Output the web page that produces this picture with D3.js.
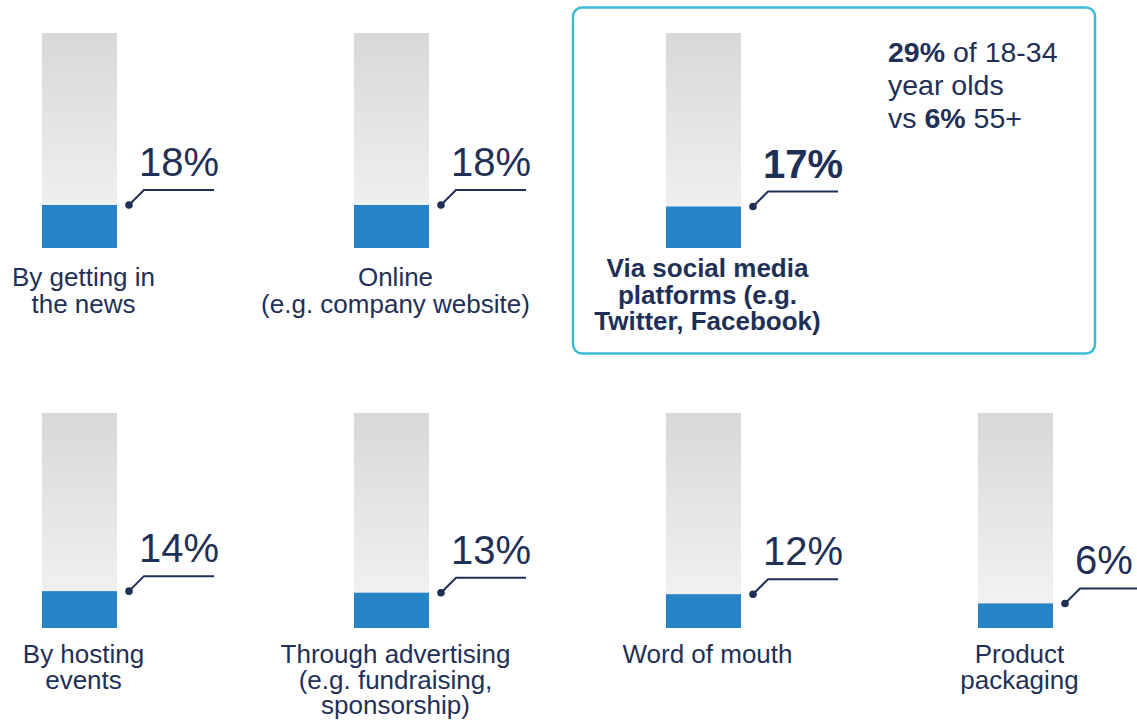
<!DOCTYPE html>
<html>
<head>
<meta charset="utf-8">
<script src="https://cdn.jsdelivr.net/npm/d3@7"></script>
<style>
  html, body { margin: 0; padding: 0; background: #ffffff; }
  svg { display: block; }
  text { font-family: "Liberation Sans", Arial, sans-serif; fill: #1f3057; }
</style>
</head>
<body>
<svg id="chart" width="1137" height="721"></svg>
<script>
// ---- Data ----
const categories = [
  ["By getting in", "the news"],
  ["Online", "(e.g. company website)"],
  ["Via social media", "platforms (e.g.", "Twitter, Facebook)"],
  ["By hosting", "events"],
  ["Through advertising", "(e.g. fundraising,", "sponsorship)"],
  ["Word of mouth"],
  ["Product", "packaging"]
];
const values = [18, 18, 17, 14, 13, 12, 6];
const rowIndex = [0, 0, 0, 1, 1, 1, 1];
const colIndex = [0, 1, 2, 0, 1, 2, 3];
const highlighted = [false, false, true, false, false, false, false];
const noteLines = [
  [{t: "29%", b: true}, {t: " of 18-34", b: false}],
  [{t: "year olds", b: false}],
  [{t: "vs ", b: false}, {t: "6%", b: true}, {t: " 55+", b: false}]
];

// ---- Layout ----
const svg = d3.select("#chart");
const barW = 75;
const barH = 215;
const x = d3.scaleLinear().domain([0, 1]).range([42, 354]);   // column -> left edge
const rowTop = d3.scaleLinear().domain([0, 1]).range([33, 413]);
const h = d3.scaleLinear().domain([-10, 130]).range([0, barH]); // value -> filled height

const navy = "#1f3057";
const blue = "#2683c6";

const defs = svg.append("defs");
const grad = defs.append("linearGradient").attr("id", "gray")
  .attr("x1", 0).attr("y1", 0).attr("x2", 0).attr("y2", 1);
grad.append("stop").attr("offset", "0%").attr("stop-color", "#d8d8d8");
grad.append("stop").attr("offset", "100%").attr("stop-color", "#f5f5f5");

// highlight box
svg.append("rect")
  .attr("x", 573).attr("y", 7.5)
  .attr("width", 522).attr("height", 346)
  .attr("rx", 9).attr("ry", 9)
  .attr("fill", "none")
  .attr("stroke", "#3cbbd4")
  .attr("stroke-width", 2.5);

const data = values.map((v, i) => ({
  v, lines: categories[i], row: rowIndex[i], col: colIndex[i], hl: highlighted[i]
}));

const g = svg.selectAll("g.item").data(data).enter().append("g").attr("class", "item");

g.each(function(d) {
  const sel = d3.select(this);
  const left = x(d.col);
  const top = rowTop(d.row);
  const bottom = top + barH;
  const fillTop = bottom - h(d.v);
  const right = left + barW;

  sel.append("rect")
    .attr("x", left).attr("y", top)
    .attr("width", barW).attr("height", barH)
    .attr("fill", "url(#gray)");
  sel.append("rect")
    .attr("x", left).attr("y", fillTop)
    .attr("width", barW).attr("height", bottom - fillTop)
    .attr("fill", blue);

  // callout
  const dx = right + 12, dy = fillTop;
  sel.append("path")
    .attr("d", `M${dx},${dy} L${dx + 15},${dy - 15} L${right + 97},${dy - 15}`)
    .attr("fill", "none")
    .attr("stroke", navy)
    .attr("stroke-width", 2);
  sel.append("circle")
    .attr("cx", dx).attr("cy", dy).attr("r", 3.8)
    .attr("fill", navy);
  sel.append("text")
    .attr("x", right + 22)
    .attr("y", dy - 29)
    .attr("font-size", 40)
    .attr("font-weight", d.hl ? "bold" : "normal")
    .text(d.v + "%");

  // category label
  const cx = left + barW / 2 + 4;
  const firstBase = bottom + (d.hl ? 29 : (d.row === 0 ? 38 : 35));
  const lineGap = d.row === 0 ? 26.5 : 25.5;
  d.lines.forEach((ln, j) => {
    sel.append("text")
      .attr("x", cx)
      .attr("y", firstBase + j * lineGap)
      .attr("text-anchor", "middle")
      .attr("font-size", 26)
      .attr("font-weight", d.hl ? "bold" : "normal")
      .text(ln);
  });
});

// side note in highlight box
noteLines.forEach((parts, i) => {
  const t = svg.append("text")
    .attr("x", 888)
    .attr("y", 62 + i * 33)
    .attr("font-size", 28.5);
  parts.forEach(p => {
    t.append("tspan").attr("font-weight", p.b ? "bold" : "normal").text(p.t);
  });
});
</script>
</body>
</html>
